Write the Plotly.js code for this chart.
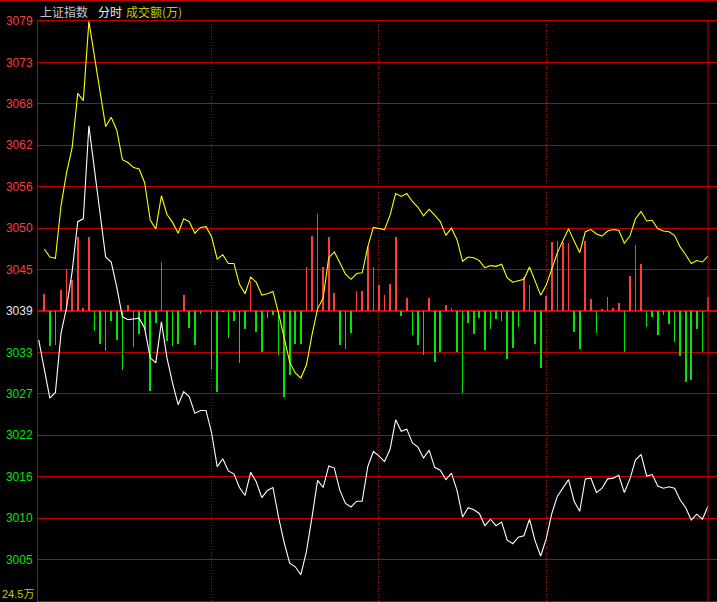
<!DOCTYPE html>
<html>
<head>
<meta charset="utf-8">
<script src="https://cdn.plot.ly/plotly-3.0.1.min.js"></script>
<style>
  html, body { margin: 0; padding: 0; background: #000; }
  #chart { width: 717px; height: 602px; }
</style>
</head>
<body>
<div id="chart"></div>
<script>
// ---- data ----
const prevClose = 3039.3;
const gridStep = 5.75;
const tickLabels = ['3079','3073','3068','3062','3056','3050','3045','3039','3033','3027','3022','3016','3010','3005'];

// Weighted index (white line), one value every 2 minutes
const indexWhite = [
  3035.3,3031.2,3027.2,3028.0,3036.2,3039.8,3044.8,3051.7,3052.1,3065.0,
  3058.8,3052.2,3046.8,3046.1,3042.6,3038.5,3038.1,3038.2,3038.3,3036.9,
  3032.8,3032.1,3037.8,3032.8,3029.3,3026.3,3028.1,3027.4,3025.1,3025.5,
  3025.5,3022.4,3017.7,3018.8,3017.1,3016.7,3014.8,3013.7,3016.9,3015.6,
  3013.4,3014.4,3014.8,3010.7,3007.2,3004.3,3003.8,3002.7,3005.9,3010.7,
  3015.8,3014.8,3017.8,3017.5,3014.4,3012.6,3012.1,3012.9,3012.9,3017.7,
  3019.8,3019.2,3018.4,3020.1,3024.2,3022.6,3022.9,3021.0,3020.4,3018.9,
  3020.0,3017.6,3017.2,3015.9,3016.8,3014.4,3010.7,3012.0,3011.7,3011.2,
  3009.5,3010.4,3009.5,3010.0,3007.5,3007.0,3007.9,3008.1,3010.4,3007.4,
  3005.3,3007.7,3011.2,3013.6,3014.7,3015.9,3012.9,3011.5,3016.0,3016.1,
  3014.1,3014.7,3016.0,3016.1,3016.5,3014.1,3016.0,3018.6,3019.4,3016.4,
  3016.6,3015.0,3014.7,3014.9,3014.7,3013.1,3012.0,3010.3,3011.1,3010.4,
  3012.2
];

// Unweighted index (yellow line)
const indexYellow = [
  null,3047.9,3046.8,3046.6,3053.9,3058.5,3062.0,3069.5,3068.5,3079.5,
  3074.5,3069.7,3064.9,3066.2,3064.4,3060.3,3059.9,3059.2,3059.0,3057.1,
  3051.9,3050.7,3055.3,3052.7,3051.6,3050.1,3052.1,3051.7,3050.1,3050.9,
  3051.0,3049.6,3046.5,3047.1,3045.9,3045.9,3043.0,3041.7,3044.0,3043.3,
  3041.5,3041.7,3042.0,3039.0,3035.6,3032.2,3030.7,3030.0,3031.8,3036.0,
  3039.6,3041.1,3046.7,3047.5,3046.0,3044.4,3043.7,3044.5,3044.6,3048.2,
  3050.9,3050.8,3050.6,3052.6,3055.6,3055.2,3055.6,3054.5,3053.7,3052.5,
  3053.4,3052.6,3051.7,3049.8,3050.8,3049.2,3046.2,3046.8,3046.7,3046.3,
  3045.3,3045.6,3045.5,3045.8,3043.9,3043.3,3043.5,3043.7,3045.4,3043.4,
  3041.5,3042.9,3045.3,3047.4,3049.1,3050.7,3049.0,3047.4,3050.3,3050.6,
  3050.0,3049.7,3050.4,3050.6,3050.5,3048.7,3049.7,3052.1,3053.1,3051.8,
  3051.9,3050.7,3050.4,3050.3,3049.8,3048.2,3047.1,3045.9,3046.3,3046.1,
  3046.9
];

// Buy/sell strength bars (red up, green down), scale -100..100
const strength = [
  null,5.9,-12.1,-11.7,7.2,14.5,10.7,25.5,1.0,25.5,
  -6.9,-11.4,-13.8,-3.4,-10.0,-20.3,2.1,-12.4,-7.9,-6.6,
  -27.6,-4.1,16.9,-10.3,-12.1,-11.4,5.5,-5.9,-11.7,-1.0,
  0,-20.0,-27.9,-0.3,-9.3,-3.4,-17.9,-6.2,10.3,-7.2,
  -14.1,-2.4,-1.4,-15.2,-29.7,-22.1,-11.4,-11.4,15.2,25.9,
  33.4,15.2,25.5,6.2,-11.7,-13.1,-7.6,6.9,6.9,22.1,
  15.2,9.0,5.5,9.3,25.5,-1.7,4.5,-8.3,-11.7,-15.2,
  4.5,-17.6,-14.1,2.1,1.0,-14.1,-28.3,-4.1,-7.9,-2.4,
  -13.4,-6.2,-2.8,-3.4,-16.6,-12.8,-5.5,11.7,9.0,-11.4,
  -19.7,5.2,23.8,24.1,23.8,23.4,-7.2,-13.1,24.1,4.1,
  -7.6,0.7,4.8,1.0,2.8,-14.1,12.1,22.8,16.2,-5.5,
  -2.1,-8.3,-1.4,-4.5,-10.7,-15.5,-24.5,-23.8,-6.2,-14.1,
  4.8
];

const sessionMarks = [31, 61, 91];
const lastIndex = 120;

// ---- build chart ----
const idx = indexWhite.map((_, i) => i);
const RED = '#c00000';

const tickvals = [], ticktext = [];
for (let j = 0; j < tickLabels.length; j++) {
  const k = 7 - j;
  tickvals.push(prevClose + k * gridStep);
  const col = k > 0 ? '#ff3c3c' : (k === 0 ? '#e8e8e8' : '#00e600');
  ticktext.push('<span style="color:' + col + '">' + tickLabels[j] + '</span>');
}
tickvals.push(prevClose - 7 * gridStep);
ticktext.push('');

const barColors = strength.map(v => (v !== null && v >= 0) ? '#ff3c3c' : '#00e600');

const traces = [
  {
    type: 'bar', x: idx, y: strength, xaxis: 'x', yaxis: 'y',
    width: 0.3, marker: { color: barColors, line: { width: 0 } },
    hoverinfo: 'skip'
  },
  {
    type: 'scatter', mode: 'lines', x: idx, y: indexWhite, xaxis: 'x', yaxis: 'y2',
    line: { color: '#ffffff', width: 1.1 }, hoverinfo: 'skip'
  },
  {
    type: 'scatter', mode: 'lines', x: idx, y: indexYellow, xaxis: 'x', yaxis: 'y2',
    line: { color: '#ffff00', width: 1.1 }, hoverinfo: 'skip', connectgaps: false
  }
];

const W = 717, H = 602, L = 38, T = 21, B = 1, R = 0;
const plotW = W - L - R, plotH = H - T - B;
// x range so that index 0 sits at 38.7px and the last index at 708px
const x0px = 0.7, xEndPx = 670;
const span = lastIndex * plotW / (xEndPx - x0px);
const r0 = -x0px * span / plotW;
const xr = [r0, r0 + span];

const py = px => 1 + (T - px) / plotH; // paper y from pixel y
const pxX = px => (px - L) / plotW;     // paper x from pixel x

const layout = {
  width: W, height: H,
  margin: { l: L, r: R, t: T, b: B, pad: 0 },
  paper_bgcolor: '#000', plot_bgcolor: '#000',
  showlegend: false,
  bargap: 0,
  xaxis: {
    range: xr, fixedrange: true,
    tickmode: 'array', tickvals: sessionMarks, showticklabels: false, ticks: '',
    showgrid: true, gridcolor: RED, gridwidth: 1, griddash: '1px,2px',
    zeroline: false, showline: true, linecolor: RED, linewidth: 1, mirror: true
  },
  yaxis: {
    range: [-100, 100], fixedrange: true,
    showgrid: false, showticklabels: false, ticks: '',
    zeroline: true, zerolinecolor: '#d80000', zerolinewidth: 2, showline: false
  },
  yaxis2: {
    overlaying: 'y', side: 'left', fixedrange: true,
    range: [prevClose - 7 * gridStep, prevClose + 7 * gridStep],
    tickmode: 'array', tickvals: tickvals, ticktext: ticktext,
    ticks: '', ticklabelstandoff: 2,
    tickfont: { family: 'Liberation Sans, Arial, sans-serif', size: 12, color: '#ff3c3c' },
    showgrid: true, gridcolor: RED, gridwidth: 1,
    zeroline: false, showline: true, linecolor: RED, linewidth: 1
  },
  shapes: [
    { type: 'line', xref: 'paper', yref: 'paper', x0: pxX(0), x1: 1, y0: py(0.5), y1: py(0.5),
      line: { color: RED, width: 1 } },
    { type: 'line', xref: 'x', yref: 'paper', x0: lastIndex, x1: lastIndex, y0: 0, y1: 1,
      line: { color: RED, width: 1 } }
  ],
  annotations: [
    { xref: 'paper', yref: 'paper', x: pxX(39), y: py(11), xanchor: 'left', yanchor: 'middle',
      text: '上证指数', showarrow: false, borderpad: 0,
      font: { family: 'Noto Sans CJK SC', size: 12, color: '#c8c8c8' } },
    { xref: 'paper', yref: 'paper', x: pxX(97), y: py(11), xanchor: 'left', yanchor: 'middle',
      text: '分时', showarrow: false, borderpad: 0,
      font: { family: 'Noto Sans CJK SC', size: 12, color: '#f0f0f0' } },
    { xref: 'paper', yref: 'paper', x: pxX(125), y: py(11), xanchor: 'left', yanchor: 'middle',
      text: '成交额(万)', showarrow: false, borderpad: 0,
      font: { family: 'Noto Sans CJK SC', size: 12, color: '#c8c800' } },
    { xref: 'paper', yref: 'paper', x: pxX(35), y: py(594), xanchor: 'right', yanchor: 'middle',
      text: '24.5万', showarrow: false, borderpad: 0,
      font: { family: 'Liberation Sans, Noto Sans CJK SC', size: 11, color: '#c8c800' } }
  ]
};

Plotly.newPlot('chart', traces, layout, { staticPlot: true, displayModeBar: false });
</script>
</body>
</html>
